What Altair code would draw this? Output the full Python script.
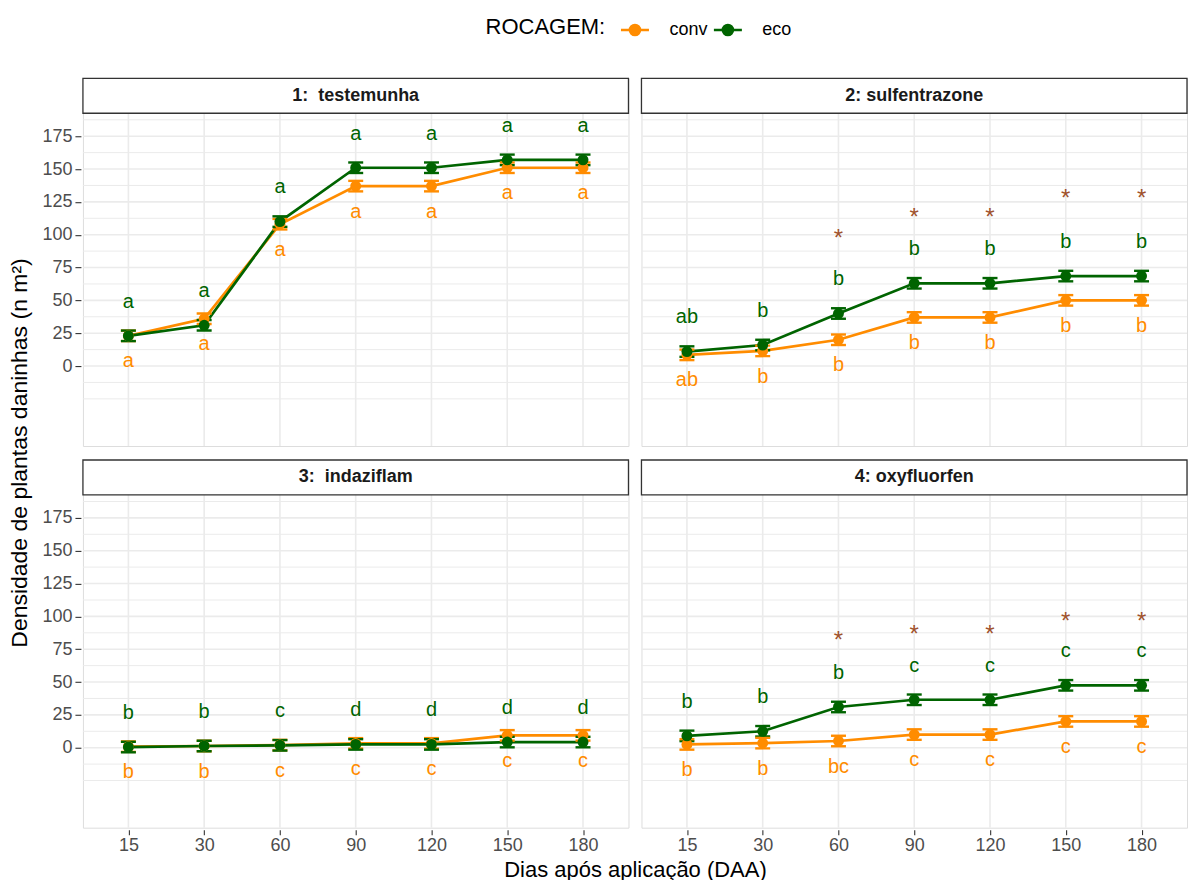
import altair as alt
import pandas as pd

# ---------------- data ----------------
days = ["15", "30", "60", "90", "120", "150", "180"]
groups = ["conv", "eco"]
panel_names = ["1:\u00a0 testemunha", "2: sulfentrazone", "3:\u00a0 indaziflam", "4: oxyfluorfen"]
panel_rows = [1, 1, 2, 2]
panel_cols = [1, 2, 1, 2]

# panel 1 testemunha
p1_conv = [23, 36, 108, 137, 137, 151, 151]
p1_eco = [23, 31, 110, 151, 151, 157, 157]
p1_conv_se = [4, 4, 4, 4, 4, 4, 4]
p1_eco_se = [4, 4, 4, 4, 4, 4, 4]
p1_conv_let = ["a", "a", "a", "a", "a", "a", "a"]
p1_eco_let = ["a", "a", "a", "a", "a", "a", "a"]
p1_ast = [None, None, None, None, None, None, None]

# panel 2 sulfentrazone
p2_conv = [8.5, 11.5, 20, 37, 37, 50, 50]
p2_eco = [11, 16, 40, 63, 63, 68.5, 68.5]
p2_conv_se = [4, 4, 4, 4, 4, 4, 4]
p2_eco_se = [4, 4, 4, 4, 4, 4, 4]
p2_conv_let = ["ab", "b", "b", "b", "b", "b", "b"]
p2_eco_let = ["ab", "b", "b", "b", "b", "b", "b"]
p2_ast = [None, None, 101, 117, 117, 132, 132]

# panel 3 indaziflam
p3_conv = [0.8, 1.3, 2.0, 3.3, 3.3, 9.4, 9.4]
p3_eco = [0.5, 1.3, 1.8, 2.5, 2.5, 4.3, 4.3]
p3_conv_se = [4, 4, 4, 4, 4, 4, 4]
p3_eco_se = [4, 4, 4, 4, 4, 4, 4]
p3_conv_let = ["b", "b", "c", "c", "c", "c", "c"]
p3_eco_let = ["b", "b", "c", "d", "d", "d", "d"]
p3_ast = [None, None, None, None, None, None, None]

# panel 4 oxyfluorfen
p4_conv = [2.5, 3.5, 5.1, 10, 10, 20, 20]
p4_eco = [9, 12.5, 31, 36.5, 36.5, 47.5, 47.5]
p4_conv_se = [4, 4, 4, 4, 4, 4, 4]
p4_eco_se = [4, 4, 4, 4, 4, 4, 4]
p4_conv_let = ["b", "b", "bc", "c", "c", "c", "c"]
p4_eco_let = ["b", "b", "b", "c", "c", "c", "c"]
p4_ast = [None, None, 86, 90.5, 90.5, 100, 100]

y_ticks = [0, 25, 50, 75, 100, 125, 150, 175]
y_minor = [-25, -12.5, 12.5, 37.5, 62.5, 87.5, 112.5, 137.5, 162.5, 187.5]

# ---------------- layout constants ----------------
W = 546
H = 368
YMIN = -60.9
YTOP = 192.5   # top of plotting panel
YMAX = 219.1   # top of strip
COLORS = ["#FF8C00", "#006400"]
FONT = "Liberation Sans"

panels = [
    (p1_conv, p1_eco, p1_conv_se, p1_eco_se, p1_conv_let, p1_eco_let, p1_ast),
    (p2_conv, p2_eco, p2_conv_se, p2_eco_se, p2_conv_let, p2_eco_let, p2_ast),
    (p3_conv, p3_eco, p3_conv_se, p3_eco_se, p3_conv_let, p3_eco_let, p3_ast),
    (p4_conv, p4_eco, p4_conv_se, p4_eco_se, p4_conv_let, p4_eco_let, p4_ast),
]

rows = []
for k, (cv, ec, cse, ese, clet, elet, ast) in enumerate(panels):
    base = dict(panel=panel_names[k], prow=panel_rows[k], pcol=panel_cols[k])
    for i, d in enumerate(days):
        rows.append(dict(base, kind="pt", day=d, group="conv", mean=cv[i], se=cse[i], letter=clet[i], ast=None))
        rows.append(dict(base, kind="pt", day=d, group="eco", mean=ec[i], se=ese[i], letter=elet[i], ast=ast[i]))
        rows.append(dict(base, kind="vgrid", day=d))
    for v in y_ticks:
        rows.append(dict(base, kind="hmajor", val=v))
    for v in y_minor:
        rows.append(dict(base, kind="hminor", val=v))
    rows.append(dict(base, kind="strip", label=panel_names[k]))

df = pd.DataFrame(rows)

yscale = alt.Scale(domain=[YMIN, YMAX], nice=False, zero=False)
yaxis = alt.Axis(values=y_ticks, grid=False, domain=False, title=None,
                 tickColor="#333333", tickSize=6, tickWidth=1.1, labelColor="#4D4D4D",
                 labelFontSize=18, labelPadding=3)
xscale = alt.Scale(type="point", padding=0.6)
xaxis = alt.Axis(grid=False, domain=False, title=None, labelAngle=0,
                 tickColor="#333333", tickSize=5, tickWidth=1.1, labelColor="#4D4D4D",
                 labelFontSize=18, labelPadding=2)

X = alt.X("day:O", sort=days, scale=xscale, axis=xaxis)
color = alt.Color("group:N", scale=alt.Scale(domain=groups, range=COLORS),
                  legend=alt.Legend(
                      title="ROCAGEM:", orient="none", direction="horizontal", titleOrient="left",
                      legendX=403, legendY=-64,
                      symbolType="M-1,0H1M0.36,0A0.36,0.36,0,1,1,-0.36,0A0.36,0.36,0,1,1,0.36,0Z",
                      symbolSize=784, symbolStrokeWidth=2.6, symbolOpacity=1,
                      labelFontSize=18, titleFontSize=22,
                      titleFontWeight="normal", titleColor="#000000", labelColor="#000000",
                      labelOffset=19, columnPadding=0, titlePadding=14, titleAnchor="middle",
                      titleBaseline="middle"))

base = alt.Chart()

vgrid = base.mark_rule(color="#EBEBEB", strokeWidth=1.6).encode(
    x=X, y=alt.datum(YMIN, scale=yscale, axis=yaxis), y2=alt.datum(YTOP)
).transform_filter(alt.datum.kind == "vgrid")

hminor = base.mark_rule(color="#EBEBEB", strokeWidth=1.0).encode(
    y=alt.Y("val:Q", scale=yscale, axis=yaxis), x=alt.value(0), x2=alt.value(W)
).transform_filter(alt.datum.kind == "hminor")

hmajor = base.mark_rule(color="#EBEBEB", strokeWidth=1.6).encode(
    y=alt.Y("val:Q", scale=yscale, axis=yaxis), x=alt.value(0), x2=alt.value(W)
).transform_filter(alt.datum.kind == "hmajor")

strip = base.mark_rect(fill="white", stroke="#333333", strokeWidth=1.3).encode(
    y=alt.datum(YTOP, scale=yscale, axis=yaxis), y2=alt.datum(YMAX), x=alt.value(0), x2=alt.value(W)
).transform_filter(alt.datum.kind == "strip")

strip_text = base.mark_text(font=FONT, fontSize=18, fontWeight="bold", color="#1A1A1A",
                            baseline="middle", align="center").encode(
    y=alt.datum((YTOP + YMAX) / 2, scale=yscale, axis=yaxis), x=alt.value(W / 2), text="label:N"
).transform_filter(alt.datum.kind == "strip")

pts = base.transform_filter(alt.datum.kind == "pt").transform_calculate(
    lo="datum.mean - datum.se", hi="datum.mean + datum.se",
    ly="datum.group == 'eco' ? datum.mean + 26 : datum.mean - 19.5")

lines = pts.mark_line(strokeWidth=2.7).encode(
    x=X, y=alt.Y("mean:Q", scale=yscale, axis=yaxis), color=color, detail="group:N")

err = pts.mark_rule(strokeWidth=2.4, opacity=1).encode(
    x=X, y=alt.Y("lo:Q", scale=yscale, axis=yaxis), y2="hi:Q", color=color)

cap_lo = pts.mark_tick(thickness=2.4, size=15, orient="horizontal", opacity=1).encode(
    x=X, y=alt.Y("lo:Q", scale=yscale, axis=yaxis), color=color)
cap_hi = pts.mark_tick(thickness=2.4, size=15, orient="horizontal", opacity=1).encode(
    x=X, y=alt.Y("hi:Q", scale=yscale, axis=yaxis), color=color)

points = pts.mark_point(filled=True, size=120, opacity=1).encode(
    x=X, y=alt.Y("mean:Q", scale=yscale, axis=yaxis), color=color)

letters = pts.mark_text(font=FONT, fontSize=20, baseline="middle", align="center").encode(
    x=X, y=alt.Y("ly:Q", scale=yscale, axis=yaxis), text="letter:N", color=color)

stars = base.transform_filter(alt.datum.kind == "pt").transform_filter("isValid(datum.ast)").mark_text(
    font=FONT, fontSize=24, baseline="middle", align="center", color="#A0522D", dy=6).encode(
    x=X, y=alt.Y("ast:Q", scale=yscale, axis=yaxis), text=alt.value("*"))

layered = alt.layer(vgrid, hminor, hmajor, strip, strip_text, lines, err, cap_lo, cap_hi,
                    points, letters, stars, data=df).properties(width=W, height=H)

chart = layered.facet(
    row=alt.Row("prow:N", header=alt.Header(
        labels=False, title="Densidade de plantas daninhas (n m²)", titleOrient="left",
        titleFontSize=23, titleFontWeight="normal", titleColor="#000000", titlePadding=-1)),
    column=alt.Column("pcol:N", header=alt.Header(
        labels=False, title="Dias após aplicação (DAA)", titleOrient="bottom",
        titleFontSize=22, titleFontWeight="normal", titleColor="#000000", titlePadding=-5)),
    spacing={"row": 10, "column": 9},
).configure_view(stroke="#333333", strokeWidth=1.3).configure(
    font=FONT, padding={"left": 8, "top": 14, "right": 0, "bottom": 0}, background="white"
)

chart.save("out.html", embed_options={"renderer": "svg", "actions": False})
